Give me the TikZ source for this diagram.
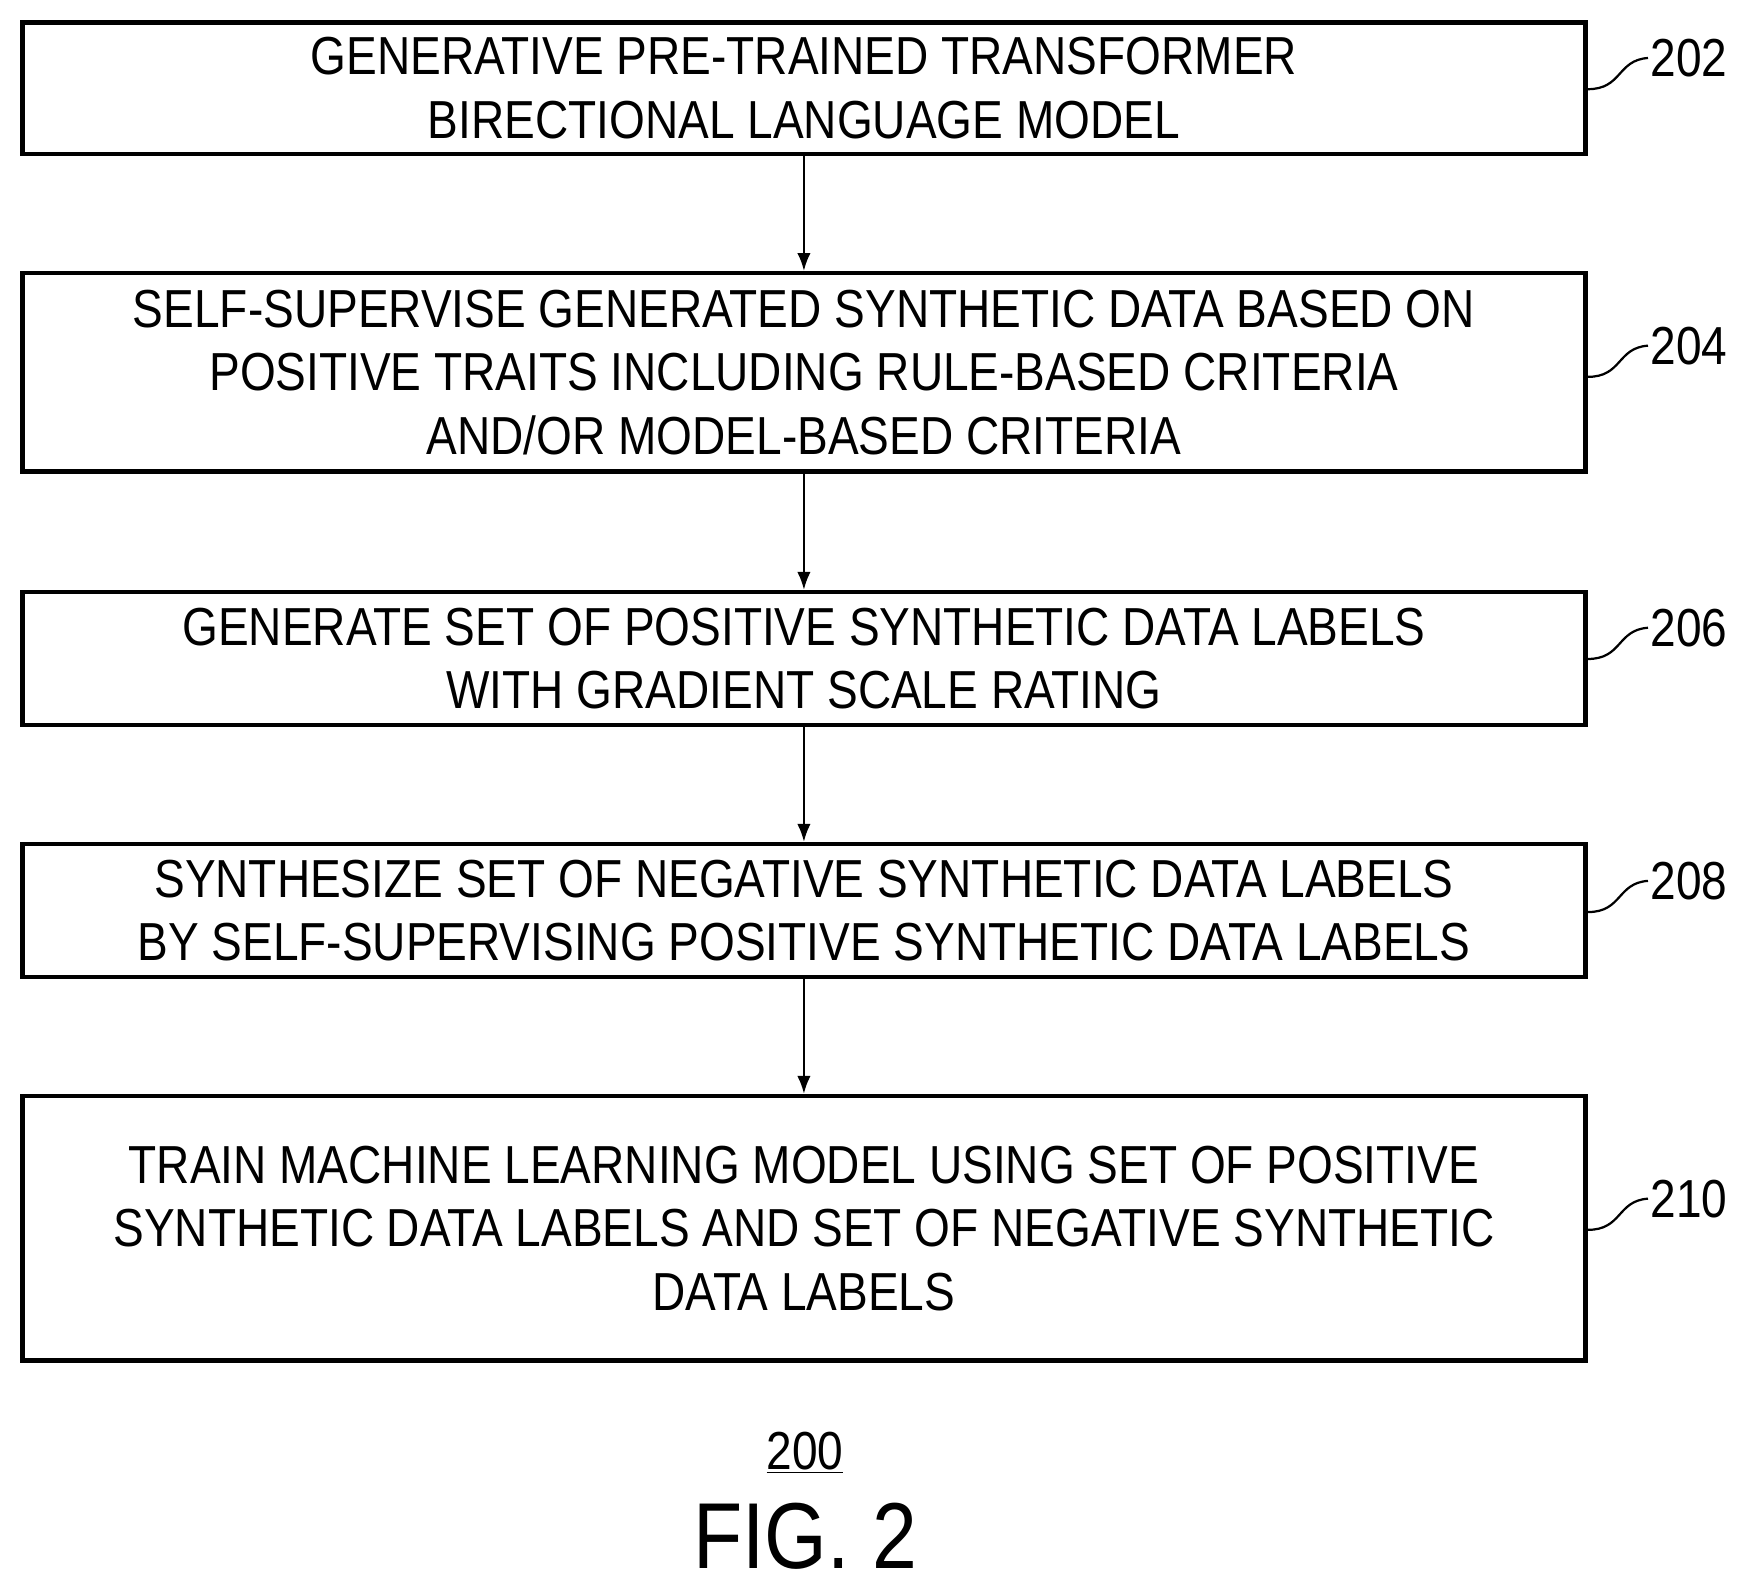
\documentclass[tikz,border=0pt]{standalone}
\usepackage{fontspec}
\setmainfont{Liberation Sans}[FakeStretch=0.86]
\begin{document}
\begin{tikzpicture}[x=0.5pt,y=-0.5pt,
  box/.style={draw,line width=2pt,minimum width=701pt,align=center,inner sep=0pt,font=\fontsize{24}{28.5}\selectfont},
  arr/.style={-{Latex[length=8pt,width=6pt]},line width=1pt},
  lab/.style={font=\fontsize{24}{28}\selectfont,anchor=west,inner sep=1pt}]
\usetikzlibrary{arrows.meta}
\useasboundingbox (0,0) rectangle (1565,1422);
\node[box,minimum height=59pt] (b1) at (721,79) {GENERATIVE PRE-TRAINED TRANSFORMER\\BIRECTIONAL LANGUAGE MODEL};
\node[box,minimum height=89pt] (b2) at (721,334) {SELF-SUPERVISE GENERATED SYNTHETIC DATA BASED ON\\POSITIVE TRAITS INCLUDING RULE-BASED CRITERIA\\AND/OR MODEL-BASED CRITERIA};
\node[box,minimum height=59.5pt] (b3) at (721,590.5) {GENERATE SET OF POSITIVE SYNTHETIC DATA LABELS\\WITH GRADIENT SCALE RATING};
\node[box,minimum height=59.5pt] (b4) at (721,816.5) {SYNTHESIZE SET OF NEGATIVE SYNTHETIC DATA LABELS\\BY SELF-SUPERVISING POSITIVE SYNTHETIC DATA LABELS};
\node[box,minimum height=118.5pt] (b5) at (721,1101.5) {TRAIN MACHINE LEARNING MODEL USING SET OF POSITIVE\\SYNTHETIC DATA LABELS AND SET OF NEGATIVE SYNTHETIC\\DATA LABELS};
\draw[arr] (b1) -- (b2);
\draw[arr] (b2) -- (b3);
\draw[arr] (b3) -- (b4);
\draw[arr] (b4) -- (b5);
\foreach \n/\t/\y in {b1/202/52,b2/204/310,b3/206/563,b4/208/790,b5/210/1075}{
  \node[lab] (l\t) at (1478,\y) {\t};
  \draw[line width=1pt] (\n.east |- 0,\y+28) .. controls (1455,\y+28) and (1450,\y+2) .. (l\t.west);
}
\node[font=\fontsize{24}{28}\selectfont] (n200) at (722,1303) {\underline{200}};
\node[font=\fontsize{42}{46}\selectfont] (fig) at (722,1378) {FIG. 2};
\end{tikzpicture}
\end{document}
